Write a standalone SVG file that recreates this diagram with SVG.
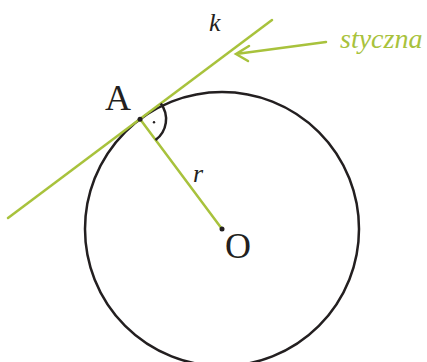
<svg xmlns="http://www.w3.org/2000/svg" width="427" height="362" viewBox="0 0 427 362">
<style>
.g{stroke:#a8c23c;stroke-width:2.5;fill:none;stroke-linecap:round}
.k{stroke:#231f20;stroke-width:2.5;fill:none}
.t{font-family:"Liberation Serif","DejaVu Serif",serif;fill:#231f20}
</style>
<rect width="427" height="362" fill="#fff"/>
<g id="circle"><circle class="k" cx="222" cy="229" r="137"/></g>
<g id="connectors">
<line class="g" x1="8" y1="218" x2="272" y2="20"/>
<line class="g" x1="140" y1="119" x2="222" y2="229"/>
<path class="g" d="M326,42 L236,54 M249,46 L236,54 L248,61"/>
<path class="k" d="M160.8,103.4 A26,26 0 0 1 155.5,140"/>
</g>
<g id="A"><circle cx="140" cy="119.3" r="2.5" fill="#231f20"/><text class="t" x="105" y="110" font-size="36">A</text></g>
<g id="O"><circle cx="222" cy="229" r="2.5" fill="#231f20"/><text class="t" x="225" y="258" font-size="36">O</text></g>
<g id="angle"><circle cx="154" cy="122.3" r="1.2" fill="#231f20"/></g>
<g id="k"><text class="t" x="209" y="31" font-size="26" font-style="italic">k</text></g>
<g id="r"><text class="t" x="193" y="182" font-size="26" font-style="italic">r</text></g>
<g id="styczna"><text class="t" x="340" y="48" font-size="28" font-style="italic" style="fill:#a8c23c">styczna</text></g>
</svg>
